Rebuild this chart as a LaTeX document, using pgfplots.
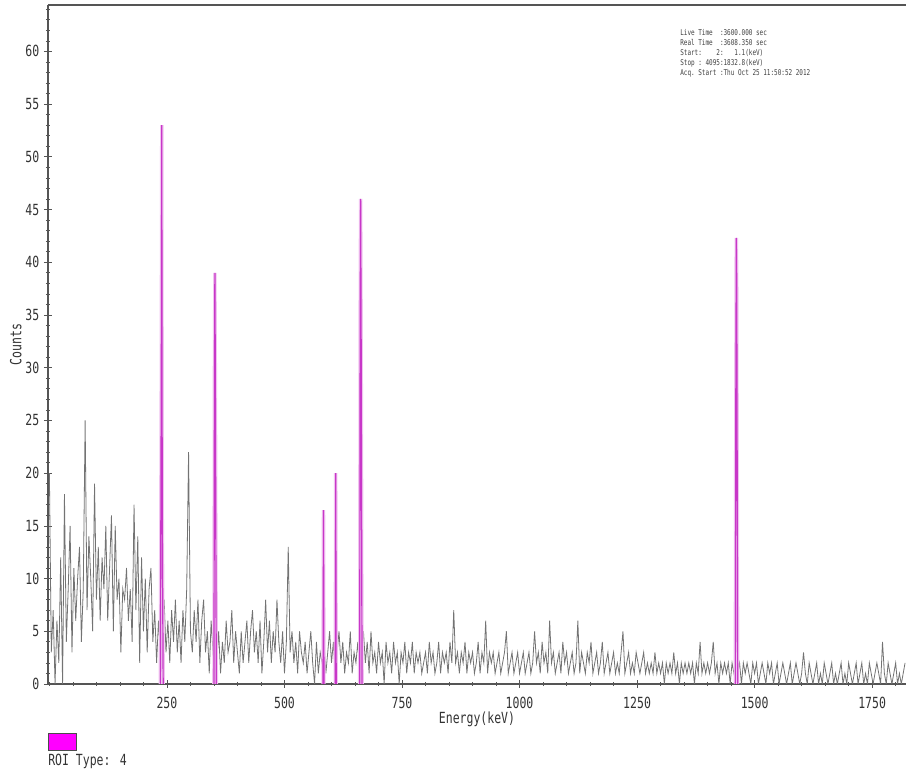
\documentclass[border=0pt]{standalone}
\usepackage{fontspec}
\setmainfont{DejaVu Sans Mono}[FakeStretch=0.75]
\usepackage{pgfplots}
\pgfplotsset{compat=1.18}
\definecolor{roi}{RGB}{200,55,200}
\definecolor{roihalo}{RGB}{240,195,240}
\definecolor{spec}{RGB}{115,115,115}
\definecolor{axcol}{RGB}{85,85,85}
\begin{document}
\begin{tikzpicture}
\begin{axis}[
  at={(0,0)}, anchor=south west,
  width=643.5pt, height=509.25pt, scale only axis,
  xmin=-3, xmax=1822, ymin=0, ymax=64.4,
  axis x line=box, axis y line*=left,
  axis line style={axcol, line width=0.8pt},
  xtick={250,500,...,1750}, minor xtick={0,50,...,1800},
  ytick={0,5,...,60}, minor ytick={0,1,...,64},
  xtick pos=bottom, tick align=center,
  major tick length=6pt, minor tick length=3pt,
  tick style={axcol, line width=0.5pt},
  /pgf/number format/assume math mode=true,
  /pgf/number format/1000 sep={},
  ticklabel style={font=\fontsize{11.5}{13}\selectfont, text=black!80},
  xticklabel style={yshift=-3pt},
  label style={font=\fontsize{11.5}{13}\selectfont, text=black!80},
  xlabel={Energy(keV)}, ylabel={Counts},
  xlabel style={yshift=4.5pt},
  ylabel style={yshift=-4pt},
  clip=true,
]
\addplot[spec, line width=0.6pt] coordinates {
(0,20)(4,3)(8,7)(12,0)(16,6)(20,2)(24,12)(28,0)(32,18)(36,4)
(40,9)(44,15)(48,3)(52,11)(56,6)(60,10)(64,13)(68,4)(72,9)(76,25)
(80,7)(84,14)(88,10)(92,5)(96,19)(100,8)(104,13)(108,6)(112,12)(116,9)
(120,15)(124,6)(128,11)(132,16)(136,5)(140,15)(144,8)(148,10)(152,3)(156,9)
(160,8)(164,11)(168,6)(172,9)(176,4)(180,17)(184,7)(188,14)(192,2)(196,12)
(200,5)(204,10)(208,3)(212,9)(216,11)(220,4)(224,7)(228,2)(232,6)(236,3)
(240,5)(244,8)(248,3)(252,6)(256,2)(260,7)(264,4)(268,8)(272,3)(276,6)
(280,2)(284,7)(288,4)(292,9)(296,22)(300,5)(304,3)(308,7)(312,4)(316,8)
(320,2)(324,6)(328,8)(332,3)(336,5)(340,1)(344,6)(348,3)(352,4)(356,2)
(360,5)(364,1)(368,4)(372,2)(376,6)(380,3)(384,4)(388,7)(392,2)(396,5)
(400,3)(404,1)(408,5)(412,2)(416,4)(420,6)(424,2)(428,5)(432,7)(436,3)
(440,5)(444,2)(448,6)(452,1)(456,4)(460,8)(464,3)(468,6)(472,2)(476,5)
(480,3)(484,8)(488,4)(492,2)(496,5)(500,1)(504,4)(508,13)(512,3)(516,5)
(520,2)(524,4)(528,1)(532,5)(536,3)(540,2)(544,4)(548,1)(552,3)(556,5)
(560,2)(564,0)(568,4)(572,1)(576,3)(580,2)(584,4)(588,1)(592,3)(596,5)
(600,2)(604,4)(608,1)(612,3)(616,5)(620,2)(624,4)(628,1)(632,3)(636,2)
(640,5)(644,1)(648,3)(652,2)(656,4)(660,1)(664,3)(668,5)(672,2)(676,4)
(680,1)(684,5)(688,2)(692,3)(696,1)(700,4)(704,2)(708,3)(712,0)(716,4)
(720,2)(724,3)(728,1)(732,4)(736,2)(740,3)(744,0)(748,3)(752,2)(756,4)
(760,1)(764,3)(768,2)(772,4)(776,1)(780,3)(784,2)(788,3)(792,1)(796,2)
(800,3)(804,1)(808,4)(812,2)(816,3)(820,1)(824,2)(828,4)(832,1)(836,3)
(840,2)(844,3)(848,1)(852,4)(856,2)(860,7)(864,2)(868,3)(872,1)(876,3)
(880,2)(884,4)(888,1)(892,3)(896,2)(900,3)(904,1)(908,2)(912,4)(916,1)
(920,3)(924,2)(928,6)(932,1)(936,3)(940,2)(944,3)(948,1)(952,2)(956,3)
(960,1)(964,2)(968,3)(972,5)(976,1)(980,2)(984,3)(988,1)(992,2)(996,3)
(1000,1)(1004,2)(1008,3)(1012,1)(1016,2)(1020,3)(1024,1)(1028,2)(1032,5)(1036,2)
(1040,3)(1044,1)(1048,4)(1052,2)(1056,3)(1060,1)(1064,6)(1068,2)(1072,3)(1076,1)
(1080,2)(1084,3)(1088,1)(1092,4)(1096,2)(1100,3)(1104,1)(1108,2)(1112,3)(1116,1)
(1120,2)(1124,6)(1128,1)(1132,3)(1136,2)(1140,1)(1144,3)(1148,2)(1152,4)(1156,1)
(1160,2)(1164,3)(1168,1)(1172,2)(1176,4)(1180,1)(1184,2)(1188,3)(1192,1)(1196,2)
(1200,3)(1204,1)(1208,2)(1212,1)(1216,3)(1220,5)(1224,1)(1228,2)(1232,3)(1236,1)
(1240,2)(1244,1)(1248,3)(1252,2)(1256,1)(1260,2)(1264,3)(1268,1)(1272,2)(1276,1)
(1280,2)(1284,1)(1288,3)(1292,1)(1296,2)(1300,1)(1304,2)(1308,0)(1312,2)(1316,1)
(1320,2)(1324,1)(1328,3)(1332,1)(1336,2)(1340,0)(1344,2)(1348,1)(1352,2)(1356,1)
(1360,2)(1364,1)(1368,2)(1372,0)(1376,2)(1380,1)(1384,4)(1388,1)(1392,2)(1396,1)
(1400,2)(1404,1)(1408,2)(1412,4)(1416,1)(1420,2)(1424,0)(1428,2)(1432,1)(1436,2)
(1440,1)(1444,2)(1448,0)(1452,2)(1456,1)(1460,2)(1464,1)(1468,2)(1472,0)(1476,2)
(1480,1)(1484,2)(1488,1)(1492,0)(1496,2)(1500,1)(1504,2)(1508,0)(1512,1)(1516,2)
(1520,1)(1524,0)(1528,2)(1532,1)(1536,2)(1540,0)(1544,1)(1548,2)(1552,0)(1556,1)
(1560,2)(1564,1)(1568,0)(1572,1)(1576,2)(1580,0)(1584,1)(1588,2)(1592,1)(1596,0)
(1600,1)(1604,3)(1608,1)(1612,0)(1616,2)(1620,1)(1624,0)(1628,1)(1632,2)(1636,0)
(1640,1)(1644,0)(1648,2)(1652,1)(1656,0)(1660,1)(1664,2)(1668,0)(1672,1)(1676,0)
(1680,1)(1684,2)(1688,0)(1692,1)(1696,0)(1700,2)(1704,1)(1708,0)(1712,1)(1716,2)
(1720,0)(1724,1)(1728,2)(1732,0)(1736,1)(1740,0)(1744,2)(1748,1)(1752,0)(1756,1)
(1760,2)(1764,1)(1768,0)(1772,4)(1776,1)(1780,0)(1784,2)(1788,1)(1792,0)(1796,1)
(1800,2)(1804,0)(1808,1)(1812,0)(1816,1)(1820,2)
};
% ROI peaks: light halo first, then the peak itself
\addplot[roihalo, line width=2.6pt] coordinates {(236,0)(238,30)(239,53)(240,16)(242,0)};
\addplot[roihalo, line width=2.6pt] coordinates {(350,0)(351,29)(352,39)(353,28)(355,0)};
\addplot[roihalo, line width=2.6pt] coordinates {(582,0)(583,16.5)(584,0)};
\addplot[roihalo, line width=2.6pt] coordinates {(608,0)(609,20)(610,0)};
\addplot[roihalo, line width=2.6pt] coordinates {(660,0)(661,35)(662,46)(663,34)(665,0)};
\addplot[roihalo, line width=2.6pt] coordinates {(1459,0)(1460,27)(1461,42.3)(1462,38)(1464,0)};
\addplot[roi, line width=0.9pt] coordinates {(236,0)(238,30)(239,53)(240,16)(242,0)};
\addplot[roi, line width=0.9pt] coordinates {(350,0)(351,29)(352,39)(353,28)(355,0)};
\addplot[roi, line width=0.9pt] coordinates {(582,0)(583,16.5)(584,0)};
\addplot[roi, line width=0.9pt] coordinates {(608,0)(609,20)(610,0)};
\addplot[roi, line width=0.9pt] coordinates {(660,0)(661,35)(662,46)(663,34)(665,0)};
\addplot[roi, line width=0.9pt] coordinates {(1459,0)(1460,27)(1461,42.3)(1462,38)(1464,0)};
\end{axis}
% acquisition info
\node[anchor=north west, inner sep=0pt, align=left, text=black!75,
      font=\fontsize{6}{7.5}\selectfont] at (474pt,491pt)
  {Live~Time~~:3600.000~sec\\
   Real~Time~~:3608.350~sec\\
   Start:~~~~2:~~~1.1(keV)\\
   Stop~:~4095:1832.8(keV)\\
   Acq.~Start~:Thu~Oct~25~11:50:52~2012};
% ROI legend
\draw[fill={rgb,255:red,255;green,0;blue,255}, draw=black!70, line width=0.5pt]
  (0,-36.75pt) rectangle (21pt,-49.5pt);
\node[anchor=base west, inner sep=0pt, text=black!80,
      font=\fontsize{11.5}{13}\selectfont] at (0,-61.5pt) {ROI Type: 4};
\pgfresetboundingbox
\path[use as bounding box] (-36pt,-66.75pt) rectangle (643.5pt,513pt);
\end{tikzpicture}
\end{document}
